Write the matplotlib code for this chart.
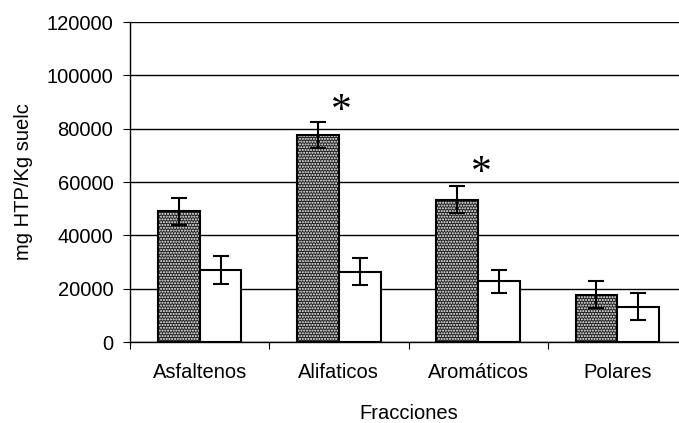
import matplotlib.pyplot as plt
import numpy as np

plt.rcParams['font.family'] = ['Liberation Sans', 'DejaVu Sans']

categorias = ["Asfaltenos", "Alifaticos", "Aromáticos", "Polares"]
serie_oscura = [49000, 77600, 53400, 17700]
error_oscura = [5000, 5000, 5200, 5000]
serie_blanca = [27000, 26400, 22700, 13300]
error_blanca = [5200, 5200, 4400, 5100]
asteriscos_x = [1, 2]
asteriscos_y = [86400, 63200]

x = np.arange(len(categorias))
ancho = 0.3

fig = plt.figure(figsize=(6.79, 4.23), dpi=100)
ax = fig.add_axes([130 / 679, 81 / 423, 557 / 679, 320 / 423])

# barras oscuras con puntos blancos
ax.bar(x - ancho / 2, serie_oscura, ancho, color="#1e1e1e", edgecolor="white",
       hatch="......", linewidth=0, zorder=2)
ax.bar(x - ancho / 2, serie_oscura, ancho, color="none", edgecolor="black",
       linewidth=1.5, zorder=3)
ax.bar(x + ancho / 2, serie_blanca, ancho, color="white", edgecolor="black",
       linewidth=1.5, zorder=3)

ax.errorbar(x - ancho / 2, serie_oscura, yerr=error_oscura, fmt="none",
            ecolor="black", elinewidth=1.5, capsize=5.5, capthick=1.5, zorder=4)
ax.errorbar(x + ancho / 2, serie_blanca, yerr=error_blanca, fmt="none",
            ecolor="black", elinewidth=1.5, capsize=5.5, capthick=1.5, zorder=4)

for xi, yi in zip(asteriscos_x, asteriscos_y):
    ax.text(xi + 0.02, yi, "*", fontsize=30, ha="center", va="center",
            family="Liberation Serif")

ax.set_ylim(0, 120000)
ax.set_xlim(-0.5, 3.5)
ax.set_yticks(range(0, 120001, 20000))
ax.yaxis.grid(True, color="black", linewidth=1)
ax.set_axisbelow(True)

ax.set_xticks([-0.5, 0.5, 1.5, 2.5])
ax.set_xticklabels([])
ax.set_xticks(x, minor=True)
ax.set_xticklabels(categorias, minor=True)
ax.tick_params(axis="x", which="minor", length=0, pad=15, labelsize=14.5)
ax.tick_params(axis="x", which="major", length=5, direction="out")
ax.tick_params(axis="y", length=5, labelsize=14.5, pad=7)

for lado in ["top", "right"]:
    ax.spines[lado].set_visible(False)
ax.spines["left"].set_linewidth(1)
ax.spines["bottom"].set_linewidth(1)

ax.set_ylabel("mg HTP/Kg suelc", fontsize=14.5, labelpad=10)
ax.set_xlabel("Fracciones", fontsize=14.5, labelpad=16)

fig.savefig("out.png", dpi=100)
